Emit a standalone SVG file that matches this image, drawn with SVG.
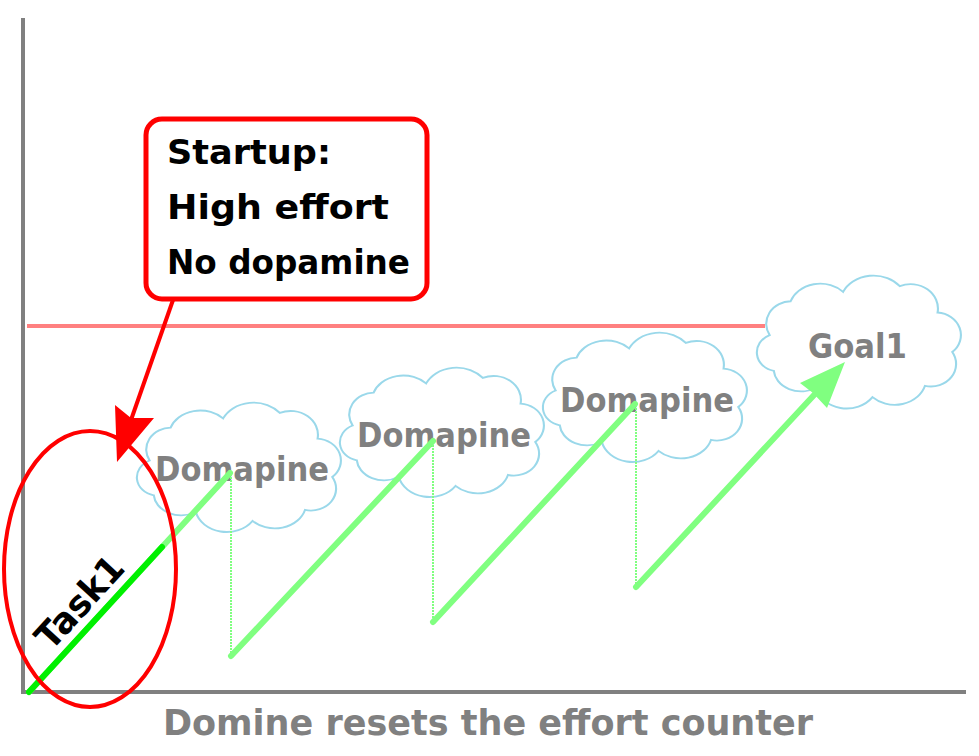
<svg xmlns="http://www.w3.org/2000/svg" width="979" height="756" viewBox="0 0 979 756">
<style>
.cloud{fill:#fff;stroke:#9ad8ea;stroke-width:2}
.lbl{font-family:"Comic Sans MS","DejaVu Sans",sans-serif;font-weight:bold;fill:#808080;font-size:33px}
.blk{font-family:"Comic Sans MS","DejaVu Sans",sans-serif;font-weight:bold;fill:#000;font-size:33px}
.seg{stroke:#80ff80;stroke-width:6;fill:none;stroke-linecap:round}
.drop{stroke:#80ff80;stroke-width:2;stroke-dasharray:2 1;fill:none}
</style>
<defs>
<path id="cloud" d="M 22,62 A 24,24 0 0 1 42,26 A 30,28 0 0 1 92,16 A 32,30 0 0 1 146,10 A 26,26 0 0 1 182,38 A 24,24 0 0 1 196,80 A 24,24 0 0 1 170,116 A 30,28 0 0 1 120,128 A 30,28 0 0 1 66,118 A 26,24 0 0 1 26,100 A 20,20 0 0 1 22,62 Z"/>
</defs>
<rect width="979" height="756" fill="#fff"/>
<g id="axes" stroke="#808080" stroke-width="4" fill="none">
<line x1="23" y1="18" x2="23" y2="694"/>
<line x1="21" y1="692" x2="966" y2="692"/>
</g>
<g id="goal-line"><line x1="27" y1="326" x2="765" y2="326" stroke="#ff8080" stroke-width="4"/></g>
<g id="cloud1"><use href="#cloud" class="cloud" transform="translate(126.5,403.8) scale(1.05,0.915)"/><text class="lbl" x="155" y="481" textLength="174" lengthAdjust="spacingAndGlyphs">Domapine</text></g>
<g id="cloud2"><use href="#cloud" class="cloud" transform="translate(329.5,368.8) scale(1.05,0.915)"/><text class="lbl" x="357" y="447" textLength="174" lengthAdjust="spacingAndGlyphs">Domapine</text></g>
<g id="cloud3"><use href="#cloud" class="cloud" transform="translate(532.5,333.8) scale(1.05,0.915)"/><text class="lbl" x="560" y="412" textLength="174" lengthAdjust="spacingAndGlyphs">Domapine</text></g>
<g id="goal1"><use href="#cloud" class="cloud" transform="translate(746.5,276.8) scale(1.05,0.94)"/><text class="lbl" x="808" y="358" textLength="99" lengthAdjust="spacingAndGlyphs">Goal1</text></g>
<g id="connectors">
<line class="seg" x1="29" y1="692" x2="230" y2="473"/>
<line x1="29" y1="692" x2="162" y2="547" stroke="#00f000" stroke-width="6" stroke-linecap="round"/>
<line class="drop" x1="231" y1="474" x2="231" y2="656"/>
<line class="seg" x1="231" y1="656" x2="433" y2="441"/>
<line class="drop" x1="433" y1="442" x2="433" y2="622"/>
<line class="seg" x1="433" y1="622" x2="635" y2="404"/>
<line class="drop" x1="636" y1="405" x2="636" y2="587"/>
<line class="seg" x1="636" y1="587" x2="815" y2="394"/>
<polygon points="845,362 827,408 813,393 800,383" fill="#80ff80"/>
<line x1="173" y1="300" x2="131" y2="420" stroke="#ff0000" stroke-width="4"/>
<polygon points="117,462 115,405 131,418 154,418" fill="#ff0000"/>
</g>
<g id="task1-highlight">
<ellipse cx="90" cy="569" rx="86" ry="138" fill="none" stroke="#ff0000" stroke-width="4"/>
<text class="blk" transform="translate(51,652) rotate(-47.5)" x="0" y="0" style="font-size:36px" textLength="112" lengthAdjust="spacingAndGlyphs">Task1</text>
</g>
<g id="callout">
<rect x="146" y="119" width="281" height="180" rx="16" ry="16" fill="#fff" stroke="#ff0000" stroke-width="5"/>
<text class="blk" x="167" y="164" textLength="164" lengthAdjust="spacingAndGlyphs">Startup:</text>
<text class="blk" x="167" y="219" textLength="222" lengthAdjust="spacingAndGlyphs">High effort</text>
<text class="blk" x="167" y="274" textLength="243" lengthAdjust="spacingAndGlyphs">No dopamine</text>
</g>
<g id="x-label"><text class="lbl" x="163" y="735" style="font-size:36px" textLength="650" lengthAdjust="spacingAndGlyphs">Domine resets the effort counter</text></g>
</svg>
